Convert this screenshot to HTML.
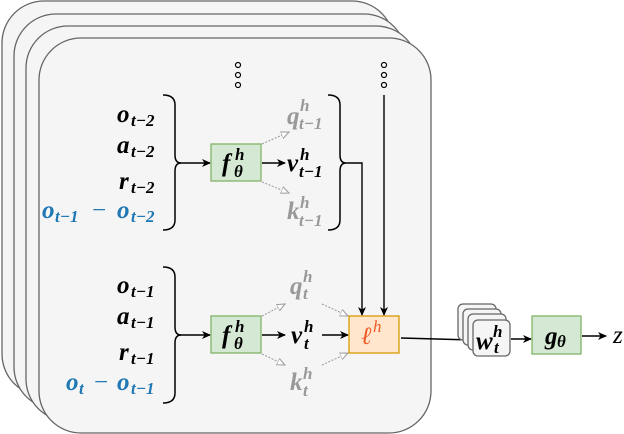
<!DOCTYPE html>
<html><head><meta charset="utf-8"><style>
html,body{margin:0;padding:0;background:#fff;}
svg{display:block;}
svg text{font-family:"Liberation Serif","DejaVu Serif",serif;font-style:italic;font-weight:bold;font-size:25px;}
svg text.s{font-size:17px;}
svg .g{fill:#999;}
svg .b{fill:#1f77b4;}
</style></head><body>
<svg width="624" height="434" viewBox="0 0 624 434" xmlns="http://www.w3.org/2000/svg">
<defs>
<marker id="a" markerWidth="10" markerHeight="10" refX="8" refY="5" orient="auto" markerUnits="userSpaceOnUse"><path d="M0,1 L9,5 L0,9 L2.5,5 Z" fill="#000"/></marker>
<marker id="ag" markerWidth="10" markerHeight="10" refX="8" refY="5" orient="auto" markerUnits="userSpaceOnUse"><path d="M0,1.5 L8,5 L0,8.5 Z" fill="#fff" stroke="#999" stroke-width="1"/></marker>
</defs>
<g fill="#f5f5f5" stroke="#666" stroke-width="1.3">
<rect x="2" y="1" width="392" height="395" rx="42"/>
<rect x="14" y="14" width="392" height="395" rx="42"/>
<rect x="26" y="26" width="392" height="395" rx="42"/>
<rect x="39" y="38" width="392" height="395" rx="42"/>
</g>
<g fill="#fff" stroke="#000" stroke-width="1.2">
<circle cx="238" cy="65" r="2.5"/><circle cx="238" cy="75" r="2.5"/><circle cx="238" cy="85" r="2.5"/>
<circle cx="384" cy="65" r="2.5"/><circle cx="384" cy="75" r="2.5"/><circle cx="384" cy="85" r="2.5"/>
</g>
<g fill="none" stroke="#000" stroke-width="1.5">
<path d="M163,95 Q175,95 175,105 L175,155 Q175,163 181,163 Q175,163 175,171 L175,220 Q175,230 163,230"/>
<path d="M163,267 Q175,267 175,277 L175,327 Q175,335 181,335 Q175,335 175,343 L175,393 Q175,403 163,403"/>
<path d="M328,95 Q340,95 340,105 L340,155 Q340,163 346,163 Q340,163 340,171 L340,220 Q340,230 328,230"/>
</g>
<g stroke="#000" stroke-width="1.4" fill="none">
<line x1="180" y1="163" x2="210" y2="163" marker-end="url(#a)"/>
<line x1="262" y1="163" x2="285" y2="163" marker-end="url(#a)"/>
<line x1="180" y1="335" x2="210" y2="335" marker-end="url(#a)"/>
<line x1="262" y1="335" x2="285" y2="335" marker-end="url(#a)"/>
<line x1="322" y1="335" x2="348" y2="335" marker-end="url(#a)"/>
<path d="M346,163 L362,163 L362,315" marker-end="url(#a)"/>
<line x1="384" y1="95" x2="384" y2="315" marker-end="url(#a)"/>
<path d="M401,338 L472,340" marker-end="url(#a)"/>
<line x1="511" y1="339" x2="531" y2="339" marker-end="url(#a)"/>
<line x1="582" y1="336" x2="606" y2="336" marker-end="url(#a)"/>
</g>
<g stroke="#999" stroke-width="1" stroke-dasharray="2,1.5" fill="none">
<line x1="262" y1="144" x2="289" y2="132" marker-end="url(#ag)"/>
<line x1="262" y1="182" x2="289" y2="193" marker-end="url(#ag)"/>
<line x1="262" y1="316" x2="285" y2="304" marker-end="url(#ag)"/>
<line x1="262" y1="354" x2="285" y2="365" marker-end="url(#ag)"/>
<line x1="322" y1="304" x2="348" y2="316" marker-end="url(#ag)"/>
<line x1="322" y1="365" x2="348" y2="353" marker-end="url(#ag)"/>
</g>
<rect x="211" y="144" width="50" height="37" fill="#d5e8d4" stroke="#82b366" stroke-width="1.3"/>
<rect x="211" y="316" width="50" height="37" fill="#d5e8d4" stroke="#82b366" stroke-width="1.3"/>
<rect x="349" y="316" width="50" height="37" fill="#ffe6cc" stroke="#d79b00" stroke-width="1.3"/>
<rect x="532" y="316" width="49" height="38" fill="#d5e8d4" stroke="#82b366" stroke-width="1.3"/>
<g fill="#f5f5f5" stroke="#666" stroke-width="1.3">
<rect x="458" y="304" width="38" height="36" rx="5"/>
<rect x="463" y="309" width="38" height="36" rx="5"/>
<rect x="468" y="314" width="38" height="36" rx="5"/>
<rect x="473" y="320" width="37" height="36" rx="5"/>
</g>
<text x="117" y="122">o</text><text x="131" y="126" class="s">t−2</text>
<text x="117" y="153">a</text><text x="131" y="157" class="s">t−2</text>
<text x="119" y="189">r</text><text x="131" y="193" class="s">t−2</text>
<text x="42" y="218" class="b">o</text><text x="55" y="222" class="s b">t−1</text><text x="92" y="218" class="b" style="font-weight:normal;font-style:normal">−</text><text x="117" y="218" class="b">o</text><text x="131" y="222" class="s b">t−2</text>
<text x="117" y="293">o</text><text x="131" y="297" class="s">t−1</text>
<text x="117" y="324">a</text><text x="131" y="328" class="s">t−1</text>
<text x="119" y="360">r</text><text x="131" y="364" class="s">t−1</text>
<text x="66" y="390" class="b">o</text><text x="79" y="394" class="s b">t</text><text x="94" y="390" class="b" style="font-weight:normal;font-style:normal">−</text><text x="117" y="390" class="b">o</text><text x="131" y="394" class="s b">t−1</text>
<text x="222" y="171">f</text><text x="235" y="160" class="s">h</text><text x="234" y="177" class="s">θ</text>
<text x="222" y="343">f</text><text x="235" y="332" class="s">h</text><text x="234" y="349" class="s">θ</text>
<text x="287" y="171">v</text><text x="300" y="160" class="s">h</text><text x="299" y="177" class="s">t−1</text>
<text x="291" y="343">v</text><text x="304" y="332" class="s">h</text><text x="304" y="349" class="s">t</text>
<text x="287" y="124" class="g">q</text><text x="300" y="111" class="s g">h</text><text x="299" y="129" class="s g">t−1</text>
<text x="287" y="219" class="g">k</text><text x="300" y="208" class="s g">h</text><text x="299" y="226" class="s g">t−1</text>
<text x="290" y="294" class="g">q</text><text x="303" y="282" class="s g">h</text><text x="303" y="299" class="s g">t</text>
<text x="290" y="390" class="g">k</text><text x="303" y="379" class="s g">h</text><text x="303" y="396" class="s g">t</text>
<text x="361" y="344" fill="#f05a28" style="font-weight:normal">ℓ</text><text x="373" y="332" class="s" fill="#f05a28" style="font-weight:normal">h</text>
<text x="476" y="349">w</text><text x="493" y="337" class="s">h</text><text x="494" y="353" class="s">t</text>
<text x="545" y="344">g</text><text x="557" y="347" class="s">θ</text>
<text x="613" y="343" style="font-weight:normal">z</text>
</svg>
</body></html>
